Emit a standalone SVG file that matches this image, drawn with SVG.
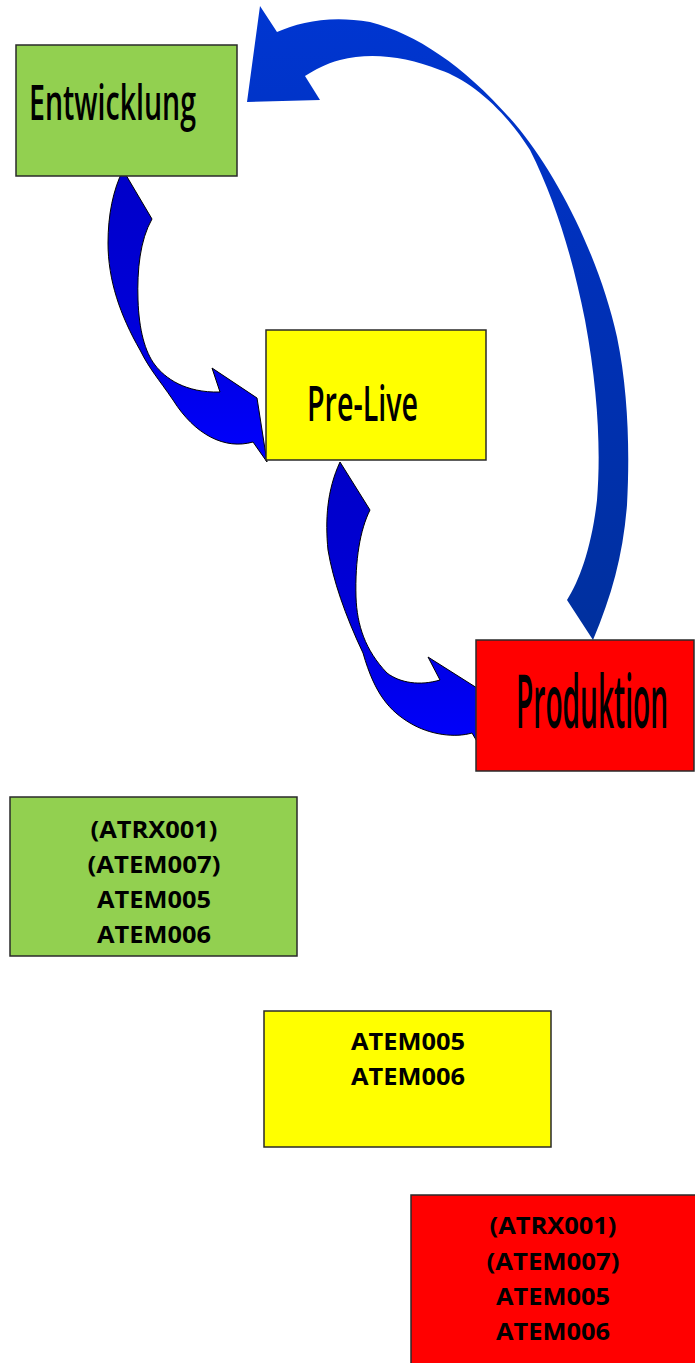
<svg xmlns="http://www.w3.org/2000/svg" width="695" height="1363" viewBox="0 0 695 1363">
<style>
.box{stroke:#2a2a2a;stroke-width:1.5}
.title{font-family:"Open Sans","Liberation Sans",sans-serif;font-size:48px;font-weight:600;fill:#000}
.lbl{font-family:"Open Sans","Liberation Sans",sans-serif;font-size:24px;font-weight:bold;fill:#000;text-anchor:middle}
.small{stroke:#000;stroke-width:1;stroke-linejoin:round}
</style>
<defs>
<linearGradient id="gSmall" x1="0" y1="0" x2="0" y2="1">
<stop offset="0" stop-color="#0000C8"/>
<stop offset="0.5" stop-color="#0000D8"/>
<stop offset="1" stop-color="#0000FF"/>
</linearGradient>
<linearGradient id="gBig" gradientUnits="userSpaceOnUse" x1="0" y1="0" x2="0" y2="640">
<stop offset="0" stop-color="#0036D2"/>
<stop offset="0.45" stop-color="#0030B8"/>
<stop offset="1" stop-color="#00309E"/>
</linearGradient>
</defs>
<rect width="695" height="1363" fill="#fff"/>

<g id="connectors">
<path id="arrow-entw-prelive" class="small" fill="url(#gSmall)" d="M 123,170 L 152,219 C 140,240 137,270 138,300 C 139,330 145,352 155,365 C 165,378 185,393 220,392 L 212,368 L 257,398 L 267,462 L 253,442 C 225,450 195,435 173,400 C 158,378 150,370 140,350 C 120,315 108,280 108,243 C 108,215 113,190 123,170 Z"/>
<path id="arrow-prelive-prod" class="small" fill="url(#gSmall)" d="M 340,462 L 370,510 C 360,530 355,560 356,597 C 357,625 365,650 387,673 C 400,683 420,686 440,680 L 428,657 L 477,688 L 485,755 L 472,733 C 455,738 430,735 410,723 C 390,711 375,695 363,653 C 345,615 333,580 328,550 C 325,520 327,490 340,462 Z"/>
<path id="arrow-prod-entw" fill="url(#gBig)" d="M 260,6 L 277,32 C 300,22 330,15 370,22 C 420,35 470,70 520,130 C 560,180 600,260 617,337 C 628,390 630,450 627,505 C 623,555 612,595 593,640 L 567,600 C 580,580 592,545 597,500 C 601,450 598,390 585,320 C 572,255 555,200 530,150 C 505,110 470,80 440,70 C 405,56 370,52 340,60 C 325,64 315,70 305,76 L 320,100 L 247,102 Z"/>
</g>

<g id="node-entwicklung">
<rect class="box" x="16" y="45" width="221" height="131" fill="#92D050"/>
<text class="title" x="29" y="120" textLength="167" lengthAdjust="spacingAndGlyphs">Entwicklung</text>
</g>
<g id="node-prelive">
<rect class="box" x="266" y="330" width="220" height="130" fill="#FFFF00"/>
<text class="title" x="307" y="421" font-size="45" textLength="111" lengthAdjust="spacingAndGlyphs">Pre-Live</text>
</g>
<g id="node-produktion">
<rect class="box" x="476" y="640" width="218" height="131" fill="#FF0000"/>
<text class="title" x="516" y="469.7" font-size="28" transform="scale(1,1.55)" textLength="152" lengthAdjust="spacingAndGlyphs">Produktion</text>
</g>

<g id="list-entwicklung">
<rect class="box" x="10" y="797" width="287" height="159" fill="#92D050"/>
<text class="lbl" x="154" y="838" textLength="127" lengthAdjust="spacingAndGlyphs">(ATRX001)</text>
<text class="lbl" x="154" y="873" textLength="133" lengthAdjust="spacingAndGlyphs">(ATEM007)</text>
<text class="lbl" x="154" y="908" textLength="114" lengthAdjust="spacingAndGlyphs">ATEM005</text>
<text class="lbl" x="154" y="943" textLength="114" lengthAdjust="spacingAndGlyphs">ATEM006</text>
</g>
<g id="list-prelive">
<rect class="box" x="264" y="1011" width="287" height="136" fill="#FFFF00"/>
<text class="lbl" x="408" y="1050" textLength="114" lengthAdjust="spacingAndGlyphs">ATEM005</text>
<text class="lbl" x="408" y="1085" textLength="114" lengthAdjust="spacingAndGlyphs">ATEM006</text>
</g>
<g id="list-produktion">
<rect class="box" x="411" y="1195" width="290" height="175" fill="#FF0000"/>
<text class="lbl" x="553" y="1234" textLength="127" lengthAdjust="spacingAndGlyphs">(ATRX001)</text>
<text class="lbl" x="553" y="1270" textLength="133" lengthAdjust="spacingAndGlyphs">(ATEM007)</text>
<text class="lbl" x="553" y="1305" textLength="114" lengthAdjust="spacingAndGlyphs">ATEM005</text>
<text class="lbl" x="553" y="1340" textLength="114" lengthAdjust="spacingAndGlyphs">ATEM006</text>
</g>
</svg>
